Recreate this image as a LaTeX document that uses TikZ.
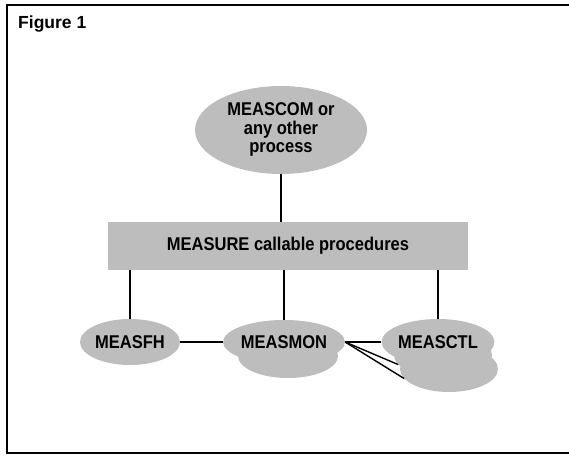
\documentclass[tikz,border=0pt]{standalone}
\usepackage{fontspec}
\usepackage{graphicx}
\setmainfont{Liberation Sans}
\usetikzlibrary{shapes.geometric}
\definecolor{screen}{gray}{0.74}
% slightly tall lettering
\newcommand{\tallword}[1]{\scalebox{1}[1.12]{#1}}
\tikzset{
  proc/.style={ellipse, fill=screen, inner sep=0pt, font=\bfseries\fontsize{16.5}{16}\selectfont, align=center},
  layer/.style={ellipse, fill=screen, inner sep=0pt},
  band/.style={rectangle, fill=screen, inner sep=0pt, font=\bfseries\fontsize{16.5}{16}\selectfont},
  link/.style={line width=1.4pt, black}
}
\begin{document}
\begin{tikzpicture}[x=1pt,y=-1pt]
  \useasboundingbox (0,0) rectangle (569,455);
  % outer frame, open on the right
  \draw[line width=1.6pt] (600,5) -- (7,5) -- (7,453) -- (600,453);
  \node[anchor=base west, inner sep=0pt, font=\bfseries\fontsize{17.5}{17.5}\selectfont] (title) at (18,28) {Figure 1};

  % calling process
  \node[proc, minimum width=172pt, minimum height=88pt] (top) at (281,130)
    {\raisebox{3pt}{\tallword{\begin{tabular}{@{}c@{}}MEASCOM or\\any other\\process\end{tabular}}}};

  % procedure layer
  \node[band, minimum width=360pt, minimum height=48pt] (api) at (288,246)
    {\tallword{MEASURE callable procedures}};

  % stacked copies behind the lower processes
  \node[layer, minimum width=100pt, minimum height=44pt] (monB) at (288,356) {};
  \node[layer, minimum width=98pt, minimum height=46pt] (ctlC) at (449,369) {};
  \node[layer, minimum width=98pt, minimum height=46pt] (ctlB) at (443,355) {};

  \node[proc, minimum width=100pt, minimum height=46pt] (fh) at (130,342) {\tallword{MEASFH}};
  \node[proc, minimum width=102pt, minimum height=44pt] (mon) at (284,342) {\tallword{MEASMON}};
  \node[proc, minimum width=98pt, minimum height=46pt] (ctl) at (438,342) {\tallword{MEASCTL}};

  % connections
  \draw[link] (top.south) -- (api.north -| top.south);
  \draw[link] (api.south -| fh.north) -- (fh.north);
  \draw[link] (api.south -| mon.north) -- (mon.north);
  \draw[link] (api.south -| ctl.north) -- (ctl.north);
  \draw[link] (fh.east) -- (mon.west);
  \draw[link] (mon.east) -- (ctl.west);
  \draw[link] (mon.east) -- (ctlB.192);
  \draw[link] (mon.east) -- (ctlC.192);
\end{tikzpicture}
\end{document}
